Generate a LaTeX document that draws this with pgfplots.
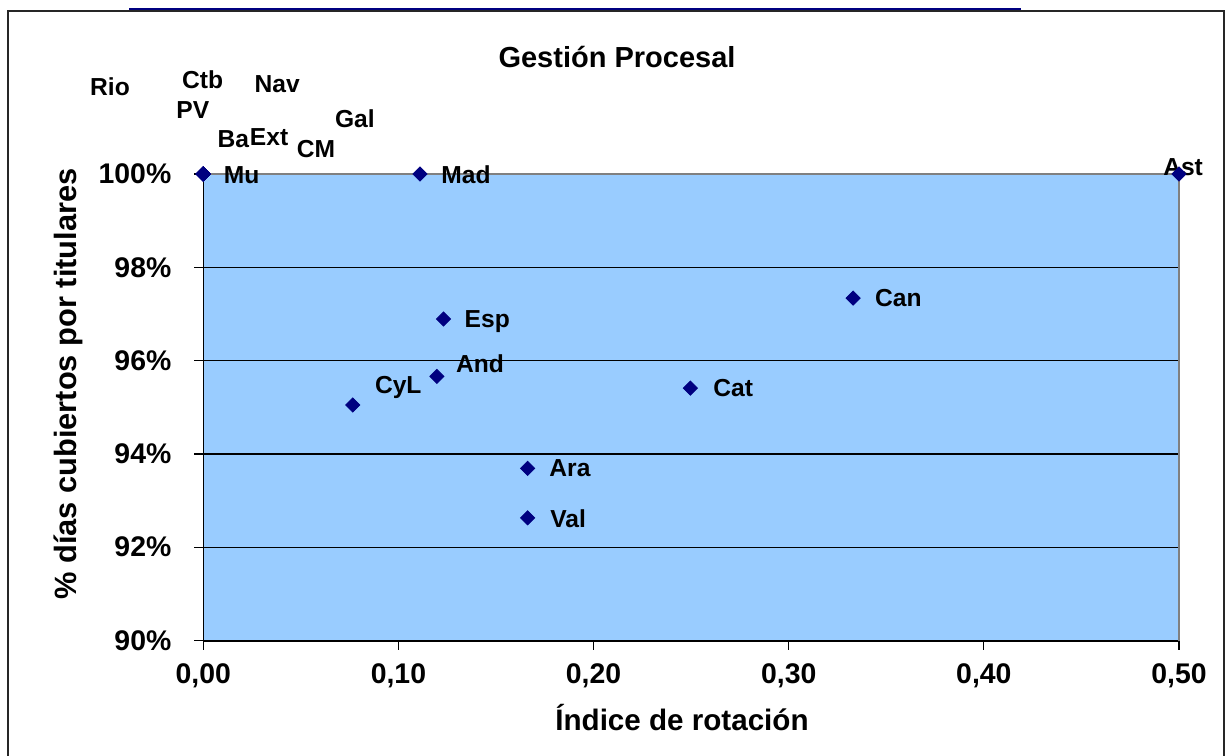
\documentclass[border=0pt]{standalone}
\usepackage{pgfplots}
\pgfplotsset{compat=1.18}
\usepackage{fontspec}
\setmainfont{Liberation Sans}
\definecolor{plotblue}{HTML}{99CCFF}
\definecolor{mk}{HTML}{000080}
\definecolor{bord}{HTML}{808080}
\newcommand{\bigf}{\fontsize{14.5bp}{17bp}\selectfont\bfseries}
\newcommand{\ylf}{\fontsize{15.4bp}{18bp}\selectfont\bfseries}
\newcommand{\xlf}{\fontsize{14.8bp}{18bp}\selectfont\bfseries}
\newcommand{\tickf}{\fontsize{14.2bp}{17bp}\selectfont\bfseries}
\newcommand{\lblf}{\fontsize{12.3bp}{15bp}\selectfont\bfseries}
\begin{document}
\begin{tikzpicture}
\useasboundingbox (0,0) rectangle (613.5bp,-378bp);
\fill[white] (0,0) rectangle (613.5bp,-378bp);
\draw[line width=1bp, black!85] (4.15bp,-378bp) -- (4.15bp,-5.5bp) -- (611.75bp,-5.5bp) -- (611.75bp,-378bp);
\draw[line width=1.2bp, mk] (64.5bp,-4.4bp) -- (510.35bp,-4.4bp);
\node[font=\bigf, inner sep=0] at (308.5bp,-28.5bp) {Gestión Procesal};
\node[font=\xlf, inner sep=0] at (341bp,-359bp) {Índice de rotación};
\node[font=\ylf, inner sep=0, rotate=90] at (34bp,-192bp) {\% días cubiertos por titulares};
\begin{axis}[
  at={(101.65bp,-320.25bp)}, anchor=south west,
  scale only axis, width=487.85bp, height=233.25bp,
  xmin=0, xmax=0.5, ymin=90, ymax=100,
  clip=false,
  axis background/.style={fill=plotblue},
  axis x line*=bottom, axis y line*=left,
  x axis line style={line width=1bp, black},
  y axis line style={line width=0.7bp, black},
  xtick={0,0.1,0.2,0.3,0.4,0.5},
  xticklabels={{0,00},{0,10},{0,20},{0,30},{0,40},{0,50}},
  ytick={90,92,94,96,98,100},
  yticklabels={90\%,92\%,94\%,96\%,98\%,100\%},
  tick align=outside, major tick length=4.5bp,
  tick style={black, line width=0.6bp},
  ymajorgrids, major grid style={black, line width=0.6bp},
  xticklabel style={font=\tickf, inner sep=0pt, anchor=north, yshift=-6.75bp},
  yticklabel style={font=\tickf, inner sep=0pt, anchor=east, xshift=-11.3bp},
]
\draw[bord, line width=1bp] (axis cs:0,100) -- (axis cs:0.5,100) -- (axis cs:0.5,90);
\addplot[only marks, mark=square*, mark size=2.5bp, mark options={rotate=45, fill=mk, draw=mk}] coordinates {
 (0,100) (0,100) (0,100) (0,100) (0,100) (0,100) (0,100) (0,100) (0,100)
 (0.111,100) (0.5,100)
 (0.333,97.34) (0.2496,95.41) (0.1231,96.89) (0.1197,95.66)
 (0.0766,95.05) (0.1662,93.69) (0.1662,92.63)
};
\node[font=\lblf, inner sep=0] at (axis cs:-0.0478,101.87) {Rio};
\node[font=\lblf, inner sep=0] at (axis cs:-0.0003,102.03) {Ctb};
\node[font=\lblf, inner sep=0] at (axis cs:0.0379,101.93) {Nav};
\node[font=\lblf, inner sep=0] at (axis cs:-0.0054,101.37) {PV};
\node[font=\lblf, inner sep=0] at (axis cs:0.0777,101.18) {Gal};
\node[font=\lblf, inner sep=0] at (axis cs:0.0154,100.74) {Ba};
\node[font=\lblf, inner sep=0] at (axis cs:0.0337,100.78) {Ext};
\node[font=\lblf, inner sep=0] at (axis cs:0.0578,100.53) {CM};
\node[font=\lblf, inner sep=0] at (axis cs:0.0197,99.98) {Mu};
\node[font=\lblf, inner sep=0] at (axis cs:0.1346,99.98) {Mad};
\node[font=\lblf, inner sep=0] at (axis cs:0.5021,100.15) {Ast};
\node[font=\lblf, inner sep=0] at (axis cs:0.3562,97.34) {Can};
\node[font=\lblf, inner sep=0] at (axis cs:0.2716,95.41) {Cat};
\node[font=\lblf, inner sep=0] at (axis cs:0.1455,96.83) {Esp};
\node[font=\lblf, inner sep=0] at (axis cs:0.1418,95.93) {And};
\node[font=\lblf, inner sep=0] at (axis cs:0.0999,95.43) {CyL};
\node[font=\lblf, inner sep=0] at (axis cs:0.1879,93.69) {Ara};
\node[font=\lblf, inner sep=0] at (axis cs:0.1870,92.62) {Val};
\end{axis}
\end{tikzpicture}
\end{document}
